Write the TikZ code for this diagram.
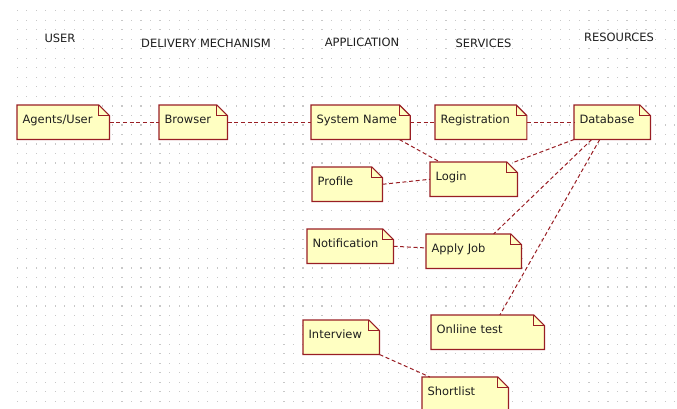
\documentclass[tikz,border=0pt]{standalone}
\usepackage{fontspec}
\setmainfont{DejaVu Sans}
\usepackage{tikz}

\definecolor{notefill}{RGB}{255,255,194}
\definecolor{notered}{RGB}{153,30,36}
\definecolor{dotgrey}{RGB}{200,200,200}
\definecolor{txtgrey}{RGB}{30,30,30}

\pgfdeclarelayer{background}
\pgfsetlayers{background,main}

\tikzset{
  note/.style={anchor=north west, inner xsep=4pt, inner ysep=0pt, text width=#1,
    text height=13.5pt, text depth=12pt, align=left,
    font=\fontsize{8.6}{10}\selectfont, text=txtgrey},
  header/.style={font=\fontsize{8.6}{10}\selectfont, text=txtgrey, inner sep=0.75pt},
  link/.style={draw=notered, line width=0.75pt, dash pattern=on 3pt off 2pt},
  outline/.style={draw=notered, fill=notefill, line width=0.9pt}
}

\begin{document}
\begin{tikzpicture}[x=0.75pt,y=0.75pt,yscale=-1,xscale=1]
\useasboundingbox (0,0) rectangle (677,408);

% Text Node
\node[header] (userhd) at (60,38) {USER};
% Text Node
\node[header] (deliveryhd) at (206,43) {DELIVERY MECHANISM};
% Text Node
\node[header] (applicationhd) at (362,42) {APPLICATION};
% Text Node
\node[header] (serviceshd) at (483.5,43) {SERVICES};
% Text Node
\node[header] (resourceshd) at (619,37) {RESOURCES};

%Shape: Note
\node[note=61pt] (agents) at (17,105) {Agents/User};
\node[note=43pt] (browser) at (159,105) {Browser};
\node[note=66pt] (sysname) at (311,105) {System Name};
\node[note=60.5pt] (regis) at (435,105) {Registration};
\node[note=49pt] (database) at (574,105) {Database};
\node[note=44.5pt] (profile) at (312,167) {Profile};
\node[note=57.25pt] (login) at (430,162) {Login};
\node[note=56.5pt] (notif) at (307,229) {Notification};
\node[note=63.25pt] (applyjob) at (426,234) {Apply Job};
\node[note=76.75pt] (onlinetest) at (431,315) {Onliine test};
\node[note=49pt] (interview) at (303,320) {Interview};
\node[note=56.5pt] (shortlist) at (422,377) {Shortlist};

%Straight Lines
\draw[link] (agents.east) -- (browser.west);
\draw[link] (browser.east) -- (sysname.west);
\draw[link] (sysname.east) -- (regis.west);
\draw[link] (regis.east) -- (database.west);
\draw[link] (sysname.-24.7) -- (login.153.1);
\draw[link] (profile.east) -- (login.west);
\draw[link] (login.23.3) -- (database.south west);
\draw[link] (database.220.4) -- (applyjob.41.1);
\draw[link] (database.234.8) -- (onlinetest.55.9);
\draw[link] (notif.east) -- (applyjob.176.4);
\draw[link] (interview.south east) -- (shortlist.154.1);

\begin{pgfonlayer}{background}
%Shape: Dot grid
\foreach \i in {0,...,69}
  \foreach \j in {0,...,41}
    \fill[dotgrey] (16.5+\i*9.53,10+\j*9.53) rectangle +(1.2,1.2);
%Shape: Note outline with folded corner
\foreach \nn in {agents,browser,sysname,regis,database,profile,login,notif,applyjob,onlinetest,interview,shortlist} {
  \draw[outline] (\nn.south west) -- (\nn.north west) -- ([xshift=-8pt]\nn.north east)
    -- ([yshift=8pt]\nn.north east) -- (\nn.south east) -- cycle;
  \draw[notered, line width=0.75pt] ([xshift=-8pt]\nn.north east) |- ([yshift=8pt]\nn.north east);
}
\end{pgfonlayer}

\end{tikzpicture}
\end{document}
